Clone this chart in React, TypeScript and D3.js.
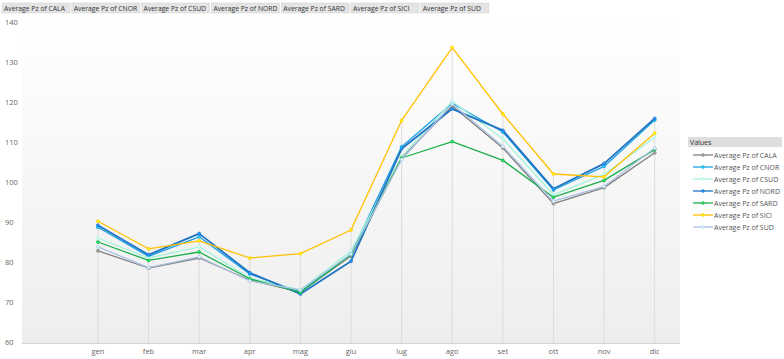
import { useRef, useEffect } from "react";
import * as d3 from "d3";

const months = ["gen", "feb", "mar", "apr", "mag", "giu", "lug", "ago", "set", "ott", "nov", "dic"];
const seriesNames = ["CALA", "CNOR", "CSUD", "NORD", "SARD", "SICI", "SUD"];
const seriesColors = ["#7f7f7f", "#1ba1e2", "#a6f2dc", "#1f74c4", "#1cae4c", "#ffc000", "#a9c2e2"];
const seriesWidths = [1.3, 1.3, 1.3, 1.8, 1.3, 1.3, 1.3];

const cala = [82.8, 78.5, 81.0, 75.5, 72.5, 81.5, 106.0, 119.0, 108.5, 94.6, 98.6, 107.3];
const cnor = [88.7, 81.4, 86.3, 77.0, 72.5, 82.0, 108.8, 119.7, 112.5, 98.0, 103.9, 115.5];
const csud = [86.0, 81.0, 83.8, 76.0, 73.0, 82.8, 106.3, 120.2, 110.8, 96.8, 101.9, 111.2];
const nord = [89.2, 81.8, 87.1, 77.3, 72.0, 80.2, 108.3, 118.3, 112.9, 98.3, 104.6, 115.9];
const sard = [85.0, 80.4, 82.5, 75.8, 72.4, 81.8, 106.0, 110.1, 105.4, 96.2, 100.4, 108.1];
const sici = [90.2, 83.3, 85.3, 81.0, 82.1, 88.0, 115.4, 133.6, 117.0, 102.0, 101.3, 112.2];
const sud = [83.8, 78.6, 81.3, 75.3, 73.0, 82.0, 105.6, 119.5, 108.9, 95.2, 98.9, 108.5];
const seriesValues = [cala, cnor, csud, nord, sard, sici, sud];

const yTicks = [60, 70, 80, 90, 100, 110, 120, 130, 140];

const W = 784;
const H = 359;
const FONT = "'Open Sans', 'Liberation Sans', sans-serif";

export default function App() {
  const ref = useRef<SVGSVGElement>(null);

  useEffect(() => {
    if (!ref.current) return;
    const svg = d3.select(ref.current);
    svg.selectAll("*").remove();

    const plot = { left: 22, right: 680, top: 18, bottom: 343 };

    // first slot stays empty, like the source chart
    const x = d3
      .scaleBand<string>()
      .domain(["", ...months])
      .range([plot.left, plot.right]);
    const cx = (m: string) => (x(m) as number) + x.bandwidth() / 2;

    const y = d3.scaleLinear().domain([60, 140]).range([342, 22]);

    // background gradient
    const defs = svg.append("defs");
    const grad = defs
      .append("linearGradient")
      .attr("id", "bg")
      .attr("x1", 0)
      .attr("y1", 0)
      .attr("x2", 0)
      .attr("y2", 1);
    grad.append("stop").attr("offset", "0%").attr("stop-color", "#ffffff");
    grad.append("stop").attr("offset", "100%").attr("stop-color", "#eeeeee");

    svg
      .append("rect")
      .attr("x", plot.left)
      .attr("y", plot.top)
      .attr("width", plot.right - plot.left)
      .attr("height", plot.bottom - plot.top)
      .attr("fill", "url(#bg)");

    // drop lines from the highest point down to the axis
    months.forEach((m, i) => {
      const top = d3.max(seriesValues, (s) => s[i]) as number;
      svg
        .append("line")
        .attr("x1", cx(m))
        .attr("x2", cx(m))
        .attr("y1", y(top))
        .attr("y2", plot.bottom)
        .attr("stroke", "#dcdcdc")
        .attr("stroke-width", 1);
    });

    // bottom axis line
    svg
      .append("line")
      .attr("x1", plot.left)
      .attr("x2", plot.right)
      .attr("y1", plot.bottom + 0.5)
      .attr("y2", plot.bottom + 0.5)
      .attr("stroke", "#d4d4d4");

    // y tick labels
    svg
      .append("g")
      .selectAll("text")
      .data(yTicks)
      .join("text")
      .attr("x", 5)
      .attr("y", (d) => y(d) + 3)
      .attr("font-family", FONT)
      .attr("font-size", 7.5)
      .attr("fill", "#666")
      .text((d) => d);

    // x labels
    svg
      .append("g")
      .selectAll("text")
      .data(months)
      .join("text")
      .attr("x", (d) => cx(d))
      .attr("y", 354)
      .attr("text-anchor", "middle")
      .attr("font-family", FONT)
      .attr("font-size", 7.5)
      .attr("fill", "#666")
      .text((d) => d);

    // series lines
    const line = d3
      .line<number>()
      .x((_, i) => cx(months[i]))
      .y((d) => y(d));

    seriesValues.forEach((vals, k) => {
      const g = svg.append("g");
      g.append("path")
        .datum(vals)
        .attr("d", line)
        .attr("fill", "none")
        .attr("stroke", seriesColors[k])
        .attr("stroke-width", seriesWidths[k])
        .attr("stroke-linejoin", "round");
      g.selectAll("circle")
        .data(vals)
        .join("circle")
        .attr("cx", (_, i) => cx(months[i]))
        .attr("cy", (d) => y(d))
        .attr("r", 1.5)
        .attr("fill", d3.color(seriesColors[k])!.brighter(0.8).formatHex())
        .attr("stroke", seriesColors[k])
        .attr("stroke-width", 0.7);
    });

    // field buttons on top
    const btn = svg
      .append("g")
      .selectAll("g")
      .data(seriesNames)
      .join("g")
      .attr("transform", (_, i) => `translate(${2 + i * 69.8}, 3)`);
    btn
      .append("rect")
      .attr("width", 68)
      .attr("height", 10)
      .attr("fill", "#e4e4e4")
      .attr("stroke", "#d0d0d0")
      .attr("stroke-width", 0.5);
    btn
      .append("text")
      .attr("x", 2)
      .attr("y", 7.8)
      .attr("font-family", FONT)
      .attr("font-size", 6.8)
      .attr("fill", "#333")
      .text((d) => `Average Pz of ${d}`);

    // legend
    const lg = svg.append("g").attr("transform", "translate(688, 137)");
    lg.append("rect")
      .attr("width", 94)
      .attr("height", 10)
      .attr("fill", "#dedede");
    lg.append("text")
      .attr("x", 2)
      .attr("y", 7.8)
      .attr("font-family", FONT)
      .attr("font-size", 7)
      .attr("fill", "#333")
      .text("Values");
    const items = lg
      .selectAll("g.item")
      .data(seriesNames)
      .join("g")
      .attr("class", "item")
      .attr("transform", (_, i) => `translate(0, ${18 + i * 12})`);
    items
      .append("line")
      .attr("x1", 5)
      .attr("x2", 25)
      .attr("stroke", (_, i) => seriesColors[i])
      .attr("stroke-width", 1.3);
    items
      .append("circle")
      .attr("cx", 15)
      .attr("r", 1.4)
      .attr("fill", (_, i) => d3.color(seriesColors[i])!.brighter(0.8).formatHex())
      .attr("stroke", (_, i) => seriesColors[i])
      .attr("stroke-width", 0.6);
    items
      .append("text")
      .attr("x", 26)
      .attr("y", 2.5)
      .attr("font-family", FONT)
      .attr("font-size", 7)
      .attr("fill", "#555")
      .text((d) => `Average Pz of ${d}`);
  }, []);

  return (
    <svg
      ref={ref}
      width={W}
      height={H}
      style={{ position: "absolute", left: 0, top: 0, background: "#fff" }}
    />
  );
}
